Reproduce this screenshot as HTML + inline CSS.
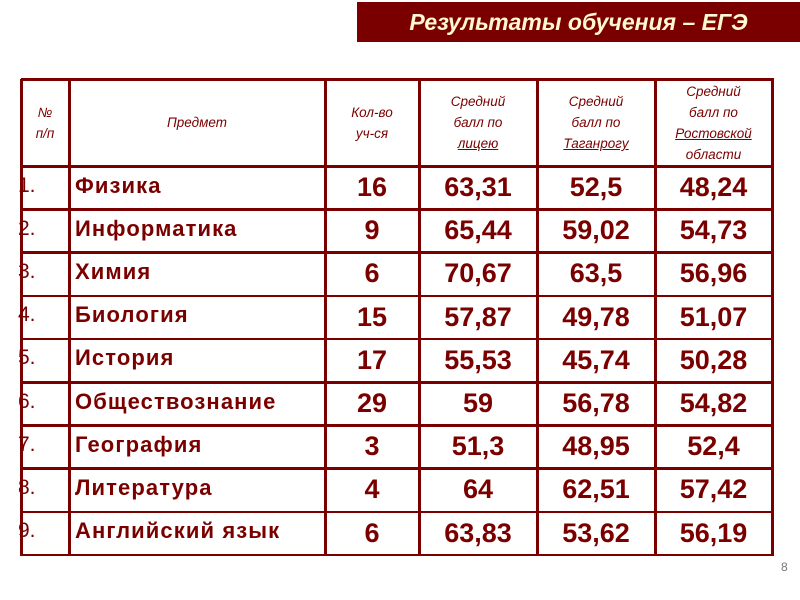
<!DOCTYPE html>
<html><head><meta charset="utf-8"><style>
body{margin:0;width:800px;height:600px;background:#fff;position:relative;overflow:hidden;font-family:"Liberation Sans",sans-serif;color:#7a0000}
#t{position:absolute;left:357px;top:2px;width:443px;height:40px;background:#7a0000;color:#fff8d0;font-weight:bold;font-style:italic;font-size:23px;line-height:40px;text-align:center}
.h,.v{position:absolute;background:#7a0000}
.c{position:absolute;display:flex;align-items:center;justify-content:center;text-align:center}
.hd{font-style:italic;font-size:13.5px;line-height:21px;color:#7a0000}
.n{font-weight:bold;font-size:27px}
.s{font-weight:bold;font-size:22px;letter-spacing:1.1px;justify-content:flex-start;padding-left:6px}
.i{font-size:21px;justify-content:flex-start}
u{text-decoration:underline}
</style></head><body>
<div id="t">Результаты обучения – ЕГЭ</div>
<div id="g"></div>
<div style="position:absolute;left:781px;top:560px;font-size:12px;color:#777">8</div>
<script>
const xs=[21,69,325,419,537,655,772];
const ys=[79,166];for(let i=1;i<=9;i++)ys.push(166+i*43.2);
let h='';
xs.forEach(x=>h+=`<div class="v" style="left:${x-1}px;top:79px;width:2.5px;height:${ys[10]-79+1}px"></div>`);
ys.forEach(y=>h+=`<div class="h" style="left:21px;top:${y-1}px;width:753px;height:2.5px"></div>`);
const hd=['№<br>п/п','Предмет','Кол-во<br>уч-ся','Средний<br>балл по<br><u>лицею</u>','Средний<br>балл по<br><u>Таганрогу</u>','Средний<br>балл по<br><u>Ростовской</u><br>области'];
hd.forEach((t,i)=>h+=`<div class="c hd" style="left:${xs[i]}px;top:79px;width:${xs[i+1]-xs[i]}px;height:87px"><div>${t}</div></div>`);
const d=[['Физика',16,'63,31','52,5','48,24'],['Информатика',9,'65,44','59,02','54,73'],['Химия',6,'70,67','63,5','56,96'],['Биология',15,'57,87','49,78','51,07'],['История',17,'55,53','45,74','50,28'],['Обществознание',29,'59','56,78','54,82'],['География',3,'51,3','48,95','52,4'],['Литература',4,'64','62,51','57,42'],['Английский язык',6,'63,83','53,62','56,19']];
d.forEach((r,k)=>{const y=ys[k+1],hh=43.2;
h+=`<div class="c i" style="left:${xs[0]-3}px;top:${y}px;width:48px;height:${hh-4}px">${k+1}.</div>`;
h+=`<div class="c s" style="left:${xs[1]}px;top:${y}px;width:250px;height:${hh-4}px;white-space:nowrap">${r[0]}</div>`;
for(let j=1;j<5;j++)h+=`<div class="c n" style="left:${xs[j+1]}px;top:${y}px;width:${xs[j+2]-xs[j+1]}px;height:${hh}px">${r[j]}</div>`;});
document.getElementById('g').innerHTML=h;
</script>
</body></html>
